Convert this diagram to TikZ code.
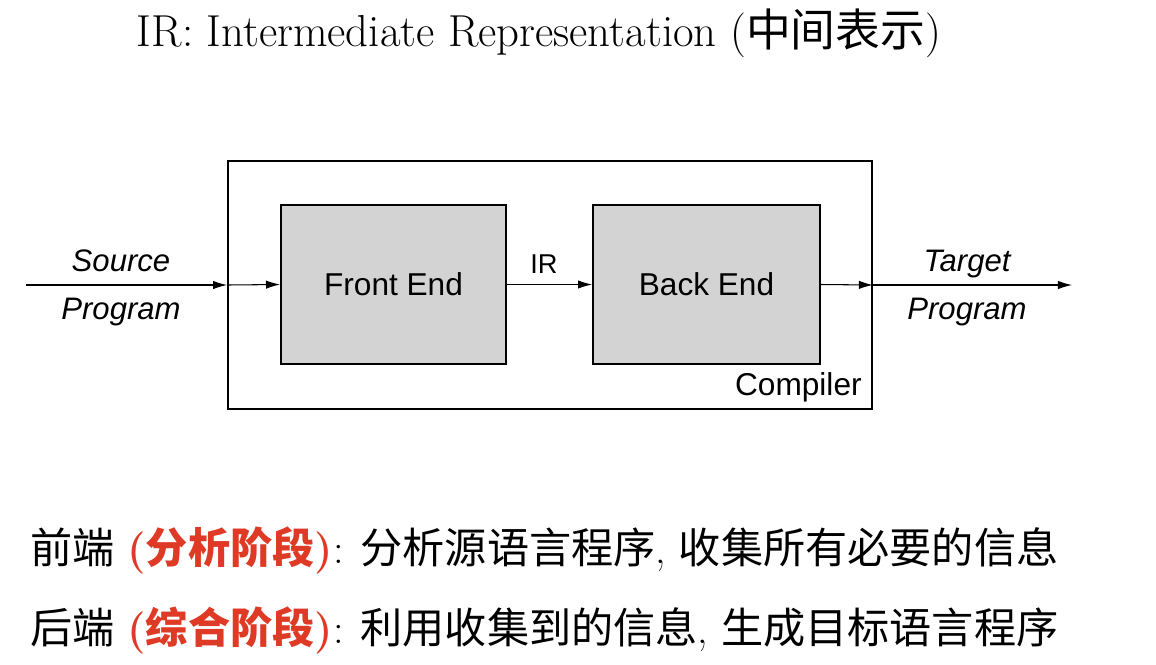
\documentclass[tikz,border=0pt]{standalone}
\usepackage{fontspec}
\usepackage{tikz}
\usetikzlibrary{arrows.meta}
\newfontfamily\cjk{Noto Sans CJK SC}
\newfontfamily\arial{Liberation Sans}
\definecolor{boxgray}{RGB}{211,211,211}
\definecolor{stagered}{RGB}{222,58,38}
\tikzset{
  phase/.style={draw,line width=1.1pt,fill=boxgray,minimum width=4.5cm,minimum height=3.18cm,
    font=\arial\fontsize{18}{21}\selectfont},
  flowlabel/.style={anchor=base,inner sep=0pt,font=\arial\itshape\fontsize{17.7}{21}\selectfont},
  flow/.style={line width=0.6pt,-{Latex[length=8pt,width=4.8pt]}},
  remark/.style={anchor=west,inner sep=0pt,font=\fontsize{24}{28}\selectfont}
}
\begin{document}
\begin{tikzpicture}[x=0.02cm,y=-0.02cm]
   \useasboundingbox (0,0) rectangle (1156,664);
   \path (539,33) node[font=\fontsize{25.5}{30}\selectfont] (title)
   {IR: Intermediate Representation ({\cjk 中间表示})};
   % compiler and its two phases
   \path (550,285) node[draw,line width=1.1pt,minimum width=12.88cm,minimum height=4.96cm] (comp) {};
   \path (862,395) node[anchor=base east,inner sep=0pt,font=\arial\fontsize{18}{21}\selectfont] (compn) {Compiler};
   \path (393.5,284.5) node[phase] (fe) {Front End};
   \path (706.5,284.5) node[phase,minimum width=4.54cm] (be) {Back End};
   \path (26,285) coordinate (src);
   \path (1072,285) coordinate (tgt);
   \draw[flow] (src) -- (comp.west);
   \draw[flow] (comp.west) -- (fe.west);
   \draw[flow] (fe.east) -- (be.west);
   \draw[flow] (be.east) -- (comp.east);
   \draw[flow] (comp.east) -- (tgt);
   \path (121,271) node[flowlabel] (srcn) {Source};
   \path (121,319) node[flowlabel] (srcp) {Program};
   \path (544,273) node[anchor=base,inner sep=0pt,font=\arial\fontsize{15.5}{18}\selectfont] (irn) {IR};
   \path (967,271) node[flowlabel] (tgtn) {Target};
   \path (967,319) node[flowlabel] (tgtp) {Program};
   % the two phases explained
   \path (30,550) node[remark] (front)
   {{\cjk 前端} {\color{stagered}\bfseries ({\cjk 分析阶段})}: {\cjk 分析源语言程序}, {\cjk 收集所有必要的信息}};
   \path (30,630) node[remark] (back)
   {{\cjk 后端} {\color{stagered}\bfseries ({\cjk 综合阶段})}: {\cjk 利用收集到的信息}, {\cjk 生成目标语言程序}};
\end{tikzpicture}
\end{document}
